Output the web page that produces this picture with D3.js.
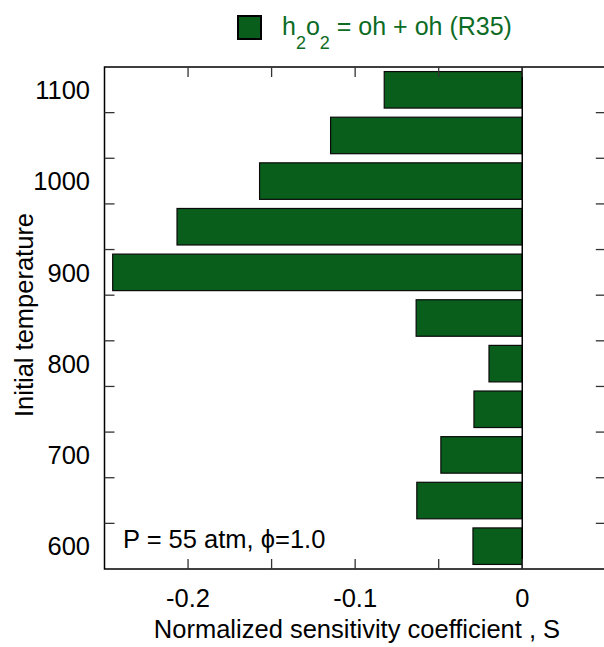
<!DOCTYPE html>
<html>
<head>
<meta charset="utf-8">
<script src="https://cdn.jsdelivr.net/npm/d3@7"></script>
<style>
  html, body { margin: 0; padding: 0; background: #fff; }
  svg { display: block; font-family: "Liberation Sans", Arial, sans-serif; }
</style>
</head>
<body>
<script>
// Initial temperatures (K), one bar each
const temperatures = [600, 650, 700, 750, 800, 850, 900, 950, 1000, 1050, 1100];
// Normalized sensitivity coefficient of R35 at each temperature
const sensitivity = [-0.0295, -0.0631, -0.0487, -0.0289, -0.0199, -0.0635, -0.2451, -0.2066, -0.1572, -0.1147, -0.0826];
// Labelled temperatures on the vertical axis
const yTickLabels = [600, 700, 800, 900, 1000, 1100];
// Horizontal axis ticks
const xTicks = [-0.25, -0.2, -0.15, -0.1, -0.05, 0, 0.05];
const xTickLabels = ["-0.2", "-0.1", "0"];

const W = 604, H = 647;
const barColor = "#095e1c";
const legendColor = "#0c6b25";
const fs = 25.5;

const svg = d3.select("body").append("svg").attr("width", W).attr("height", H);

const x = d3.scaleLinear().domain([-0.25, 0.05]).range([104.5, 605.8]);
const y = d3.scaleBand()
  .domain(temperatures)
  .range([569, 67])
  .paddingInner(0.2)
  .paddingOuter(0.1);

const plotTop = 67, plotBottom = 569, plotLeft = x(-0.25), plotRight = x(0.05);

// Bars
svg.append("g").selectAll("rect")
  .data(temperatures.map((t, i) => ({ t, v: sensitivity[i] })))
  .join("rect")
  .attr("x", d => x(Math.min(0, d.v)))
  .attr("width", d => Math.abs(x(d.v) - x(0)))
  .attr("y", d => y(d.t))
  .attr("height", y.bandwidth())
  .attr("fill", barColor)
  .attr("stroke", "#0a0a0a")
  .attr("stroke-width", 1.2);

// Zero line
svg.append("line")
  .attr("x1", x(0)).attr("x2", x(0))
  .attr("y1", plotTop).attr("y2", plotBottom)
  .attr("stroke", "#000").attr("stroke-width", 1.5);

// Frame
svg.append("rect")
  .attr("x", plotLeft).attr("y", plotTop)
  .attr("width", plotRight - plotLeft).attr("height", plotBottom - plotTop)
  .attr("fill", "none").attr("stroke", "#000").attr("stroke-width", 1.5);

// Band-boundary ticks on left and right (inward)
const step = y.step();
const bounds = d3.range(1, temperatures.length).map(i => plotBottom - i * step);
const tickG = svg.append("g").attr("stroke", "#333").attr("stroke-width", 1.3);
bounds.forEach(b => {
  tickG.append("line").attr("x1", plotLeft).attr("x2", plotLeft + 10).attr("y1", b).attr("y2", b);
  tickG.append("line").attr("x1", plotRight - 10).attr("x2", plotRight).attr("y1", b).attr("y2", b);
});
// Horizontal ticks on bottom and top (inward)
xTicks.slice(1, -1).forEach(v => {
  tickG.append("line").attr("x1", x(v)).attr("x2", x(v)).attr("y1", plotBottom).attr("y2", plotBottom - 10);
  tickG.append("line").attr("x1", x(v)).attr("x2", x(v)).attr("y1", plotTop).attr("y2", plotTop + 10);
});

// Y tick labels
svg.append("g").selectAll("text")
  .data(yTickLabels)
  .join("text")
  .attr("x", 90)
  .attr("y", d => y(d) + y.bandwidth() / 2)
  .attr("dy", "0.36em")
  .attr("text-anchor", "end")
  .attr("font-size", fs)
  .attr("fill", "#000")
  .text(d => d);

// X tick labels
svg.append("g").selectAll("text")
  .data(xTickLabels)
  .join("text")
  .attr("x", d => x(+d))
  .attr("y", 607)
  .attr("text-anchor", "middle")
  .attr("font-size", fs)
  .attr("fill", "#000")
  .text(d => d);

// Axis titles
svg.append("text")
  .attr("x", 357).attr("y", 638)
  .attr("text-anchor", "middle")
  .attr("font-size", fs)
  .text("Normalized sensitivity coefficient , S");

svg.append("text")
  .attr("transform", "translate(33,315) rotate(-90)")
  .attr("text-anchor", "middle")
  .attr("font-size", fs)
  .text("Initial temperature");

// Conditions note
svg.append("text")
  .attr("x", 123).attr("y", 548)
  .attr("font-size", fs)
  .text("P = 55 atm, \u03d5=1.0");

// Legend
svg.append("rect")
  .attr("x", 238).attr("y", 16)
  .attr("width", 23).attr("height", 23)
  .attr("fill", barColor)
  .attr("stroke", "#000").attr("stroke-width", 2);

const leg = svg.append("text")
  .attr("x", 282).attr("y", 35)
  .attr("font-size", 25)
  .attr("fill", legendColor);
leg.append("tspan").text("h");
leg.append("tspan").attr("font-size", 18).attr("dy", 14).text("2");
leg.append("tspan").attr("dy", -14).text("o");
leg.append("tspan").attr("font-size", 18).attr("dy", 14).text("2");
leg.append("tspan").attr("dy", -14).text(" = oh + oh (R35)");
</script>
</body>
</html>
